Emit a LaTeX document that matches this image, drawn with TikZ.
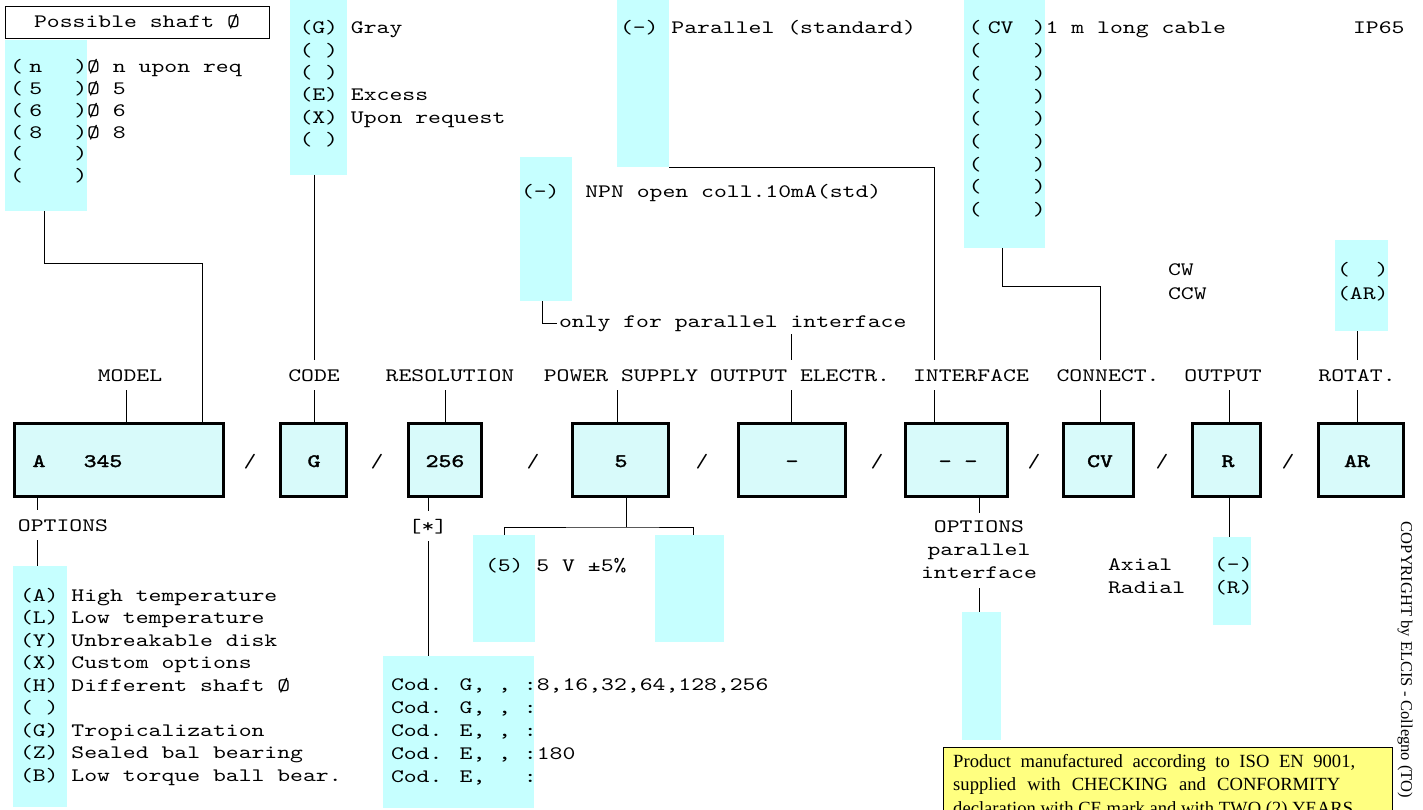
\documentclass[tikz,border=0pt]{standalone}
\usepackage{fontspec}
\newfontfamily\cour[FakeStretch=1.29]{lmmono10-regular.otf}
\newfontfamily\courb[FakeStretch=1.29,FakeBold=2]{lmmono10-regular.otf}
\newfontfamily\tms{Liberation Serif}
\newcommand\optrow[2]{(\makebox[51.5pt][l]{\hspace{6.4pt}#1})#2}
\definecolor{cyanL}{HTML}{C6FFFF}
\definecolor{cyanM}{HTML}{D8FAFA}
\definecolor{yelB}{HTML}{FFFF80}
\tikzset{
  mono/.style={font=\fontsize{19}{22}\cour, inner sep=0pt, outer sep=0pt},
  lbl/.style={mono, anchor=base, text height=12pt, text depth=0pt, inner xsep=0pt, inner ysep=9pt},
  rowt/.style={mono, anchor=base west},
  listbox/.style={fill=cyanL, draw=none, inner sep=0pt, outer sep=0pt, anchor=north west},
  mainbox/.style={draw=black, line width=3pt, fill=cyanM, inner sep=0pt, outer sep=0pt, minimum height=73pt},
  boxtxt/.style={font=\fontsize{19}{22}\courb, inner sep=0pt, anchor=base},
  slash/.style={mono, anchor=base},
  conn/.style={draw=black, line width=0.9pt},
  certtxt/.style={font=\fontsize{18.6}{22}\tms, anchor=base west, inner sep=0pt},
}
\begin{document}
\begin{tikzpicture}[x=1pt,y=-1pt]
\useasboundingbox (0,0) rectangle (1423,810);
\fill[white] (0,0) rectangle (1423,810);
\begin{scope}
\clip (0,0) rectangle (1423,810);

% ---------- coordinates for connector columns
\coordinate (xM) at (126,0);
\coordinate (xC) at (314,0);
\coordinate (xR) at (445,0);
\coordinate (xP) at (617,0);
\coordinate (xO) at (791,0);
\coordinate (xI) at (934,0);
\coordinate (xN) at (1100,0);
\coordinate (xU) at (1229,0);
\coordinate (xT) at (1357,0);
\coordinate (xS0) at (44,0);
\coordinate (jS) at (202,263);
\coordinate (xE) at (542,0);
\coordinate (jN) at (1002,286);
\coordinate (xA) at (37,0);
\coordinate (xR2) at (428,0);
\coordinate (jP) at (626,527);
\coordinate (xPa) at (504,0);
\coordinate (xPb) at (693,0);
\coordinate (xI2) at (979,0);

% ---------- cyan list boxes
\node[listbox, minimum width=82pt, minimum height=171pt] (cShaft) at (5,40) {};
\node[listbox, minimum width=57pt, minimum height=175pt] (cCode) at (290,0) {};
\node[listbox, minimum width=52pt, minimum height=167pt] (cInt) at (617,0) {};
\node[listbox, minimum width=52pt, minimum height=144pt] (cOE) at (520,157) {};
\node[listbox, minimum width=81pt, minimum height=248pt] (cCV) at (964,0) {};
\node[listbox, minimum width=53pt, minimum height=91pt] (cAR) at (1335,240) {};
\node[listbox, minimum width=54pt, minimum height=241pt] (cOpt) at (13,566) {};
\node[listbox, minimum width=151pt, minimum height=152pt] (cRes) at (383,656) {};
\node[listbox, minimum width=62pt, minimum height=107pt] (cP1) at (473,535) {};
\node[listbox, minimum width=69pt, minimum height=107pt] (cP2) at (655,535) {};
\node[listbox, minimum width=39pt, minimum height=128pt] (cIopt) at (962,612) {};
\node[listbox, minimum width=38pt, minimum height=88pt] (cU) at (1213,537) {};

% ---------- shaft
\node[mono, draw=black, line width=0.8pt, minimum width=264pt, minimum height=32pt, text height=12pt, text depth=0pt] (tShaft) at (137,22) {Possible shaft Ø};
\node[rowt] (s1) at (10,73) {\optrow{n}{Ø n upon req}};
\node[rowt] (s2) at (10,94.7) {\optrow{5}{Ø 5}};
\node[rowt] (s3) at (10,116.4) {\optrow{6}{Ø 6}};
\node[rowt] (s4) at (10,138.1) {\optrow{8}{Ø 8}};
\node[rowt] (s5) at (10,159.8) {\optrow{}{}};
\node[rowt] (s6) at (10,181.5) {\optrow{}{}};

% ---------- code
\node[rowt] (c1) at (299.5,34) {(G) Gray};
\node[rowt] (c2) at (299.5,56.3) {( )};
\node[rowt] (c3) at (299.5,78.6) {( )};
\node[rowt] (c4) at (299.5,101) {(E) Excess};
\node[rowt] (c5) at (299.5,123.3) {(X) Upon request};
\node[rowt] (c6) at (299.5,145.6) {( )};

% ---------- interface (top)
\node[rowt] (i1) at (620,34) {(-) Parallel (standard)};

% ---------- output electr.
\node[rowt] (e1) at (521,198) {(-)\ \ NPN open coll.10mA(std)};
\node[mono, anchor=base west, inner xsep=2pt, inner ysep=3pt] (tOnly) at (557,327) {only for parallel interface};

% ---------- connection
\node[rowt] (v1) at (968.5,34) {\optrow{CV}{1 m long cable}};
\node[rowt] (v2) at (968.5,56.7) {\optrow{}{}};
\node[rowt] (v3) at (968.5,79.4) {\optrow{}{}};
\node[rowt] (v4) at (968.5,102.1) {\optrow{}{}};
\node[rowt] (v5) at (968.5,124.8) {\optrow{}{}};
\node[rowt] (v6) at (968.5,147.5) {\optrow{}{}};
\node[rowt] (v7) at (968.5,170.2) {\optrow{}{}};
\node[rowt] (v8) at (968.5,192.9) {\optrow{}{}};
\node[rowt] (v9) at (968.5,215.6) {\optrow{}{}};
\node[rowt] (ip) at (1353,34) {IP65};

% ---------- rotation
\node[rowt] (cw) at (1168,276) {CW};
\node[rowt] (ccw) at (1168,299) {CCW};
\node[rowt] (r1) at (1337,276) {(\ \ )};
\node[rowt] (r2) at (1337,299) {(AR)};

% ---------- labels row
\node[lbl] (lM) at (130,381) {MODEL};
\node[lbl] (lC) at (314,381) {CODE};
\node[lbl] (lR) at (450,381) {RESOLUTION};
\node[lbl] (lP) at (621,381) {POWER SUPPLY};
\node[lbl] (lO) at (800,381) {OUTPUT ELECTR.};
\node[lbl] (lI) at (971,381) {INTERFACE};
\node[lbl] (lN) at (1108,381) {CONNECT.};
\node[lbl] (lU) at (1223,381) {OUTPUT};
\node[lbl] (lT) at (1357,381) {ROTAT.};

% ---------- main code boxes
\node[mainbox, minimum width=209pt] (bA) at (119,459.5) {};
\node[mainbox, minimum width=66pt] (bC) at (313.5,459.5) {};
\node[mainbox, minimum width=73pt] (bR) at (445,459.5) {};
\node[mainbox, minimum width=96pt] (bP) at (620.5,459.5) {};
\node[mainbox, minimum width=107pt] (bO) at (792,459.5) {};
\node[mainbox, minimum width=102pt] (bI) at (956.5,459.5) {};
\node[mainbox, minimum width=70pt] (bN) at (1098.5,459.5) {};
\node[mainbox, minimum width=68pt] (bU) at (1226.5,459.5) {};
\node[mainbox, minimum width=85pt] (bT) at (1361,459.5) {};

\node[boxtxt] (tA1) at (39,467) {A};
\node[boxtxt] (tA2) at (103,467) {345};
\node[boxtxt] (tC) at (314,467) {G};
\node[boxtxt] (tR) at (445,467) {256};
\node[boxtxt] (tP) at (621,467) {5};
\node[boxtxt] (tO) at (792,467) {-};
\node[boxtxt] (tI) at (958,467) {- -};
\node[boxtxt] (tN) at (1100,467) {CV};
\node[boxtxt] (tU) at (1228,467) {R};
\node[boxtxt] (tT) at (1357,467) {AR};

\node[slash] (sl1) at (250,467) {/};
\node[slash] (sl2) at (377,467) {/};
\node[slash] (sl3) at (533,467) {/};
\node[slash] (sl4) at (702,467) {/};
\node[slash] (sl5) at (877,467) {/};
\node[slash] (sl6) at (1034,467) {/};
\node[slash] (sl7) at (1162,467) {/};
\node[slash] (sl8) at (1288,467) {/};

% ---------- options (model)
\node[lbl] (lOpt) at (63,531) {OPTIONS};
\node[rowt] (o1) at (20,601) {(A) High temperature};
\node[rowt] (o2) at (20,623.5) {(L) Low temperature};
\node[rowt] (o3) at (20,646) {(Y) Unbreakable disk};
\node[rowt] (o4) at (20,668.5) {(X) Custom options};
\node[rowt] (o5) at (20,691) {(H) Different shaft Ø};
\node[rowt] (o6) at (20,713.5) {( )};
\node[rowt] (o7) at (20,736) {(G) Tropicalization};
\node[rowt] (o8) at (20,758.5) {(Z) Sealed bal bearing};
\node[rowt] (o9) at (20,781) {(B) Low torque ball bear.};

% ---------- resolution
\node[lbl] (lStar) at (428,532) {{[*]}};
\node[rowt] (d1) at (391,690) {Cod. G, , :8,16,32,64,128,256};
\node[rowt] (d2) at (391,713) {Cod. G, , :};
\node[rowt] (d3) at (391,736) {Cod. E, , :};
\node[rowt] (d4) at (391,759) {Cod. E, , :180};
\node[rowt] (d5) at (391,782) {Cod. E,\ \ \ :};

% ---------- power supply
\node[rowt] (p1) at (485,571) {(5) 5 V ±5\%};

% ---------- interface options
\node[lbl, inner ysep=7pt] (lIo1) at (979,532) {OPTIONS};
\node[lbl] (lIo2) at (979,555) {parallel};
\node[lbl, inner ysep=10pt] (lIo3) at (979,578) {interface};

% ---------- output
\node[rowt] (ax) at (1108,570) {Axial};
\node[rowt] (rad) at (1108,593) {Radial};
\node[rowt] (u1) at (1214,570) {(-)};
\node[rowt] (u2) at (1214,593) {(R)};

% ---------- certificate box
\node[draw=black, line width=0.8pt, fill=yelB, anchor=north west, minimum width=449pt, minimum height=100pt, inner sep=0pt] (yel) at (943,747) {};
\node[certtxt] (y1) at (953,767) {\makebox[402pt][s]{Product manufactured according to ISO EN 9001,}};
\node[certtxt] (y2) at (953,790.5) {\makebox[387pt][s]{supplied with CHECKING and CONFORMITY}};
\node[certtxt] (y3) at (953,814) {\makebox[400pt][s]{declaration with CE mark and with TWO (2) YEARS}};

\node[font=\fontsize{16.5}{18}\tms, rotate=-90, inner sep=0pt] (copy) at (1405,660) {COPYRIGHT by ELCIS - Collegno (TO)};

% ---------- connectors
\draw[conn] (cShaft.south -| xS0) |- (jS) -- (bA.north -| jS);
\draw[conn] (cCode.south -| xC) -- (lC.north -| xC);
\draw[conn] (cInt.south east) -| (lI.north -| xI);
\draw[conn] (cOE.south -| xE) |- (tOnly.west);
\draw[conn] (tOnly.south -| xO) -- (lO.north -| xO);
\draw[conn] (cCV.south -| jN) -- (jN) -| (lN.north -| xN);
\draw[conn] (cAR.south -| xT) -- (lT.north -| xT);

\draw[conn] (lM.south -| xM) -- (bA.north -| xM);
\draw[conn] (lC.south -| xC) -- (bC.north -| xC);
\draw[conn] (lR.south -| xR) -- (bR.north -| xR);
\draw[conn] (lP.south -| xP) -- (bP.north -| xP);
\draw[conn] (lO.south -| xO) -- (bO.north -| xO);
\draw[conn] (lI.south -| xI) -- (bI.north -| xI);
\draw[conn] (lN.south -| xN) -- (bN.north -| xN);
\draw[conn] (lU.south -| xU) -- (bU.north -| xU);
\draw[conn] (lT.south -| xT) -- (bT.north -| xT);

\draw[conn] (bA.south -| xA) -- (lOpt.north -| xA);
\draw[conn] (lOpt.south -| xA) -- (cOpt.north -| xA);
\draw[conn] (bR.south -| xR2) -- (lStar.north -| xR2);
\draw[conn] (lStar.south -| xR2) -- (cRes.north -| xR2);
\draw[conn] (bP.south -| jP) -- (jP);
\draw[conn] (cP1.north -| xPa) |- (jP) -| (cP2.north -| xPb);
\draw[conn] (bI.south -| xI2) -- (lIo1.north -| xI2);
\draw[conn] (lIo3.south -| xI2) -- (cIopt.north -| xI2);
\draw[conn] (bU.south -| xU) -- (cU.north -| xU);

\end{scope}
\end{tikzpicture}
\end{document}
